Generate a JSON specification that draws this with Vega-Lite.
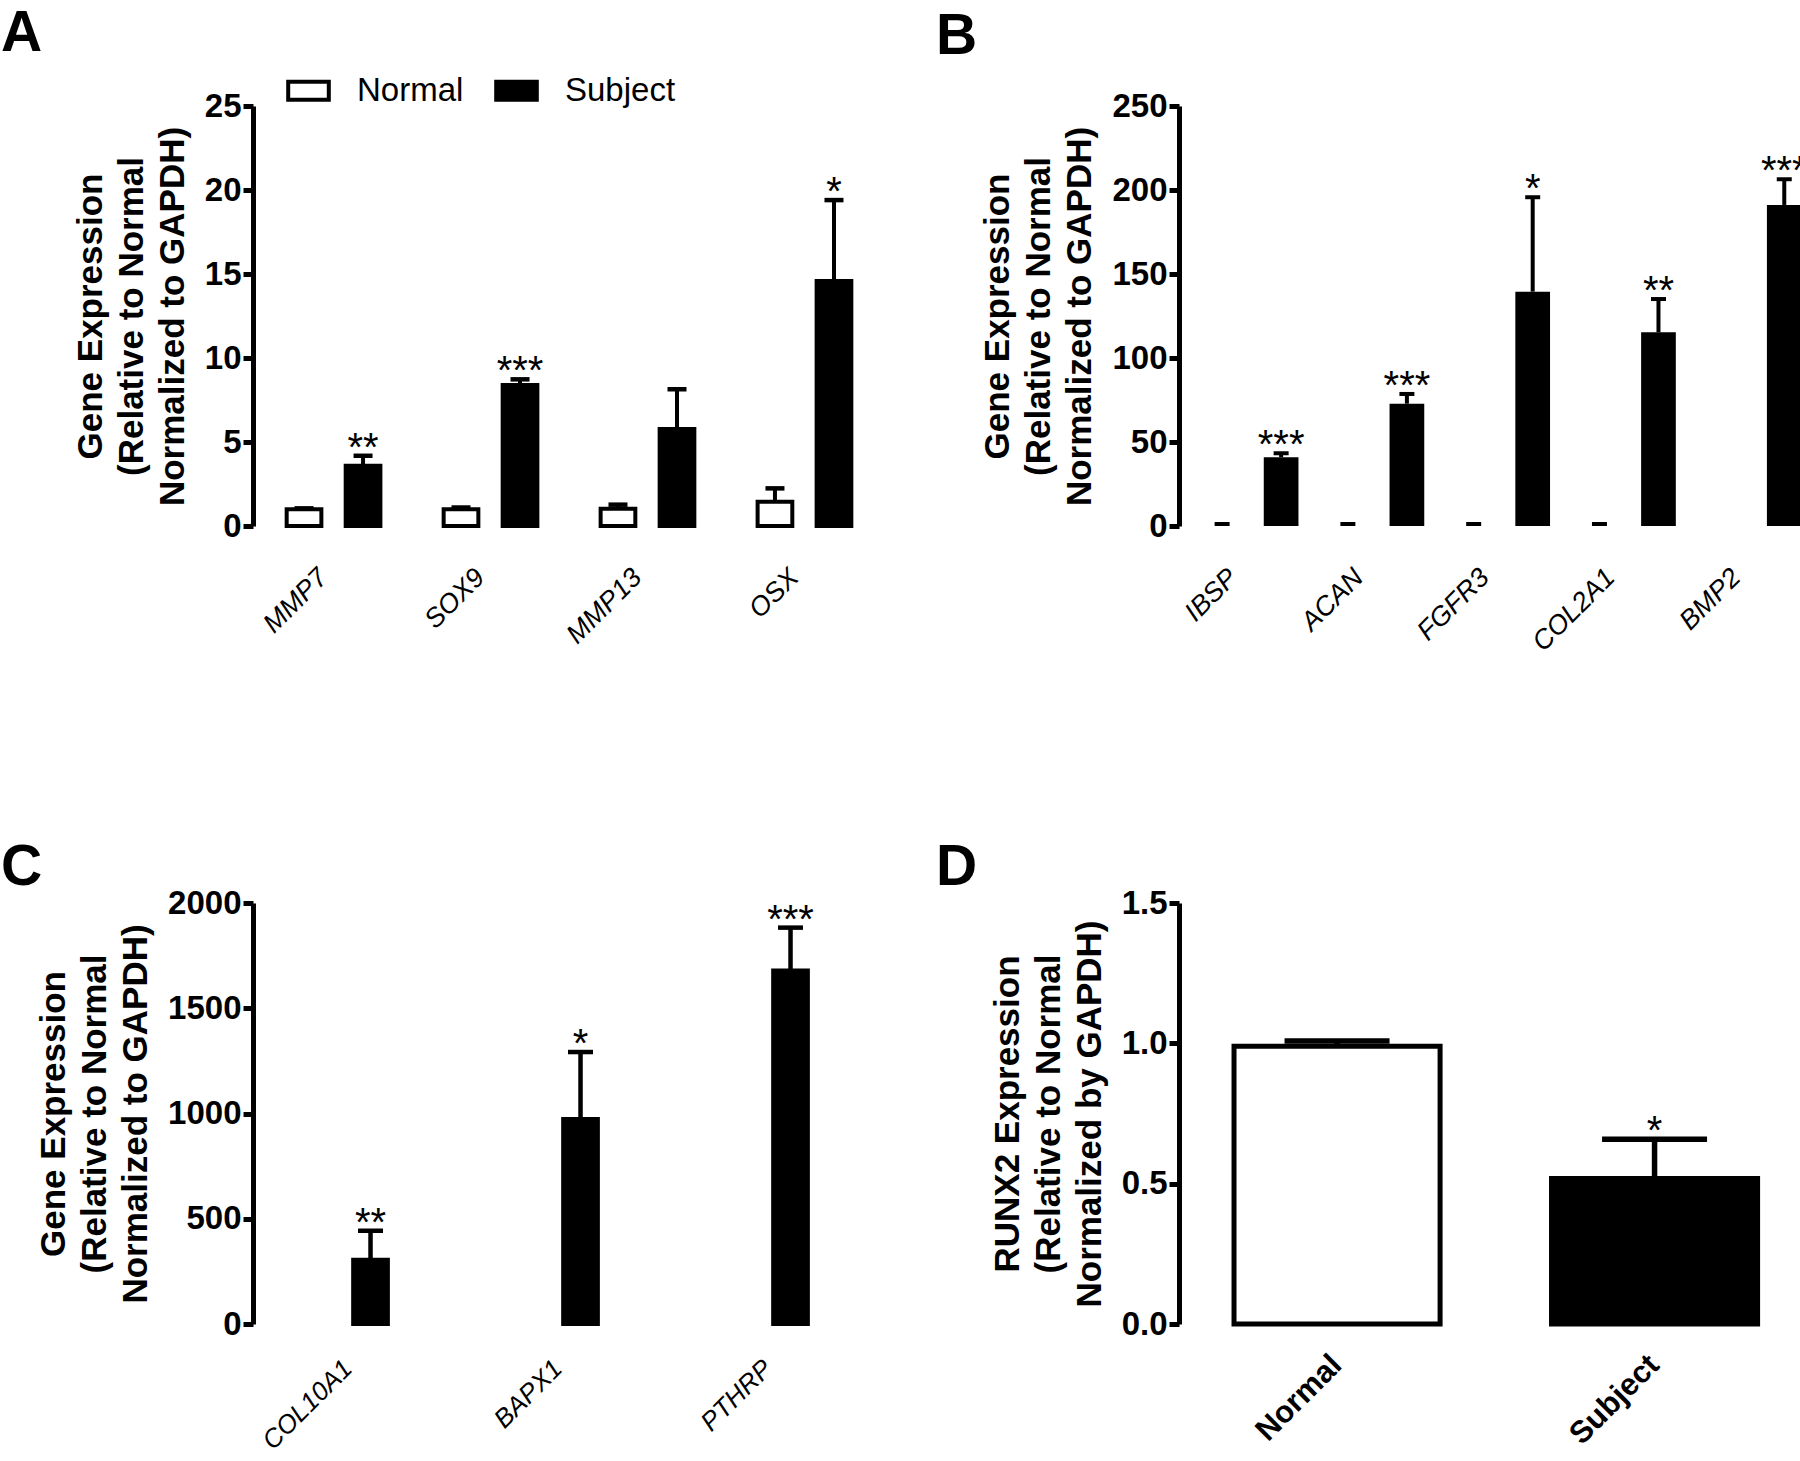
{
  "$schema": "https://vega.github.io/schema/vega-lite/v6.json",
  "background": "white",
  "autosize": {"type": "none"},
  "padding": {"left": 253, "top": 106, "right": 1547, "bottom": 1355},
  "bounds": "flush",
  "columns": 2,
  "spacing": {"row": 377, "column": 294},
  "resolve": {"scale": {"fill": "independent"}, "legend": {"fill": "independent"}},
  "config": {
    "font": "Liberation Sans",
    "view": {"stroke": null},
    "axis": {"labelFont": "Liberation Sans", "titleFont": "Liberation Sans", "labelColor": "black", "titleColor": "black", "domainColor": "black", "tickColor": "black", "grid": false},
    "axisY": {"domainWidth": 5, "tickWidth": 5, "tickSize": 10, "labelFontSize": 33, "labelFontWeight": "bold", "labelPadding": 2, "titleFontSize": 35, "titleFontWeight": "bold", "titleLineHeight": 41, "titlePadding": 14},
    "axisX": {"domain": false, "ticks": false, "labelAngle": -45, "labelAlign": "right", "labelBaseline": "middle", "labelFontSize": 27, "labelFontStyle": "italic", "labelFontWeight": "normal", "labelPadding": 47, "labelOffset": -10, "labelOverlap": false, "labelBound": false},
    "title": {"font": "Liberation Sans", "fontSize": 57, "fontWeight": "bold", "color": "black", "anchor": "start", "frame": "group", "baseline": "alphabetic"},
    "text": {"font": "Liberation Sans", "color": "black"}
  },
  "concat": [
    {
      "width": 632, "height": 420,
      "title": {"text": "A", "dx": -252, "offset": 5},
      "data": {"values": [
        {"gene": "MMP7", "group": "Normal", "value": 1.0, "err": 1.05, "sig": ""},
        {"gene": "MMP7", "group": "Subject", "value": 3.59, "err": 4.18, "sig": "**"},
        {"gene": "SOX9", "group": "Normal", "value": 1.0, "err": 1.1, "sig": ""},
        {"gene": "SOX9", "group": "Subject", "value": 8.39, "err": 8.73, "sig": "***"},
        {"gene": "MMP13", "group": "Normal", "value": 1.02, "err": 1.27, "sig": ""},
        {"gene": "MMP13", "group": "Subject", "value": 5.77, "err": 8.14, "sig": ""},
        {"gene": "OSX", "group": "Normal", "value": 1.45, "err": 2.24, "sig": ""},
        {"gene": "OSX", "group": "Subject", "value": 14.58, "err": 19.4, "sig": "*"}
      ]},
      "encoding": {
        "x": {"field": "gene", "type": "nominal", "sort": ["MMP7", "SOX9", "MMP13", "OSX"], "title": null, "scale": {"paddingInner": 0.403, "paddingOuter": 0.2145}},
        "xOffset": {"field": "group", "type": "nominal", "scale": {"domain": ["Normal", "Subject"], "paddingInner": 0.412, "paddingOuter": 0}}
      },
      "layer": [
        {"mark": {"type": "bar", "stroke": "black", "strokeWidth": 4},
         "encoding": {
           "y": {"field": "value", "type": "quantitative", "scale": {"domain": [0, 25], "nice": false}, "axis": {"values": [0, 5, 10, 15, 20, 25], "format": "d", "title": ["Gene Expression", "(Relative to Normal", "Normalized to GAPDH)"]}},
           "fill": {"field": "group", "type": "nominal", "scale": {"domain": ["Normal", "Subject"], "range": ["white", "black"]},
             "legend": {"orient": "none", "legendX": 33, "legendY": -38, "direction": "horizontal", "title": null, "symbolType": "M-1,-0.443H1V0.443H-1Z", "symbolSize": 1648, "symbolStrokeColor": "black", "symbolStrokeWidth": 4, "labelFont": "Liberation Sans", "labelFontSize": 33, "labelColor": "black", "labelOffset": 26, "columnPadding": 24, "padding": 0}}
         }},
        {"mark": {"type": "rule", "color": "black", "strokeWidth": 4},
         "encoding": {"y": {"field": "value", "type": "quantitative"}, "y2": {"field": "err"}}},
        {"mark": {"type": "tick", "color": "black", "size": 19, "thickness": 4.5, "opacity": 1},
         "encoding": {"y": {"field": "err", "type": "quantitative"}}},
        {"mark": {"type": "text", "fontSize": 40, "baseline": "alphabetic", "dy": 5},
         "encoding": {"y": {"field": "err", "type": "quantitative"}, "text": {"field": "sig"}}}
      ]
    },
    {
      "width": 620, "height": 420,
      "title": {"text": "B", "dx": -243, "offset": 24},
      "data": {"values": [
        {"gene": "IBSP", "group": "Normal", "value": 1, "err": 1.2, "sig": ""},
        {"gene": "IBSP", "group": "Subject", "value": 40.9, "err": 43.3, "sig": "***"},
        {"gene": "ACAN", "group": "Normal", "value": 1, "err": 1.2, "sig": ""},
        {"gene": "ACAN", "group": "Subject", "value": 72.8, "err": 78.6, "sig": "***"},
        {"gene": "FGFR3", "group": "Normal", "value": 1, "err": 1.2, "sig": ""},
        {"gene": "FGFR3", "group": "Subject", "value": 139.5, "err": 195.7, "sig": "*"},
        {"gene": "COL2A1", "group": "Normal", "value": 1, "err": 1.2, "sig": ""},
        {"gene": "COL2A1", "group": "Subject", "value": 115.3, "err": 135.1, "sig": "**"},
        {"gene": "BMP2", "group": "Subject", "value": 191.1, "err": 206.4, "sig": "***"}
      ]},
      "encoding": {
        "x": {"field": "gene", "type": "nominal", "sort": ["IBSP", "ACAN", "FGFR3", "COL2A1", "BMP2"], "title": null, "scale": {"paddingInner": 0.385, "paddingOuter": 0.157, "align": 0.652}},
        "xOffset": {"field": "group", "type": "nominal", "scale": {"domain": ["Normal", "Subject"], "paddingInner": 0.336, "paddingOuter": 0}}
      },
      "layer": [
        {"mark": {"type": "bar", "strokeWidth": 0},
         "encoding": {
           "y": {"field": "value", "type": "quantitative", "scale": {"domain": [0, 250], "nice": false}, "axis": {"values": [0, 50, 100, 150, 200, 250], "format": "d", "title": ["Gene Expression", "(Relative to Normal", "Normalized to GAPDH)"]}},
           "fill": {"field": "group", "type": "nominal", "scale": {"domain": ["Normal", "Subject"], "range": ["white", "black"]}, "legend": null}
         }},
        {"mark": {"type": "rule", "color": "black", "strokeWidth": 4},
         "encoding": {"y": {"field": "value", "type": "quantitative"}, "y2": {"field": "err"}}},
        {"mark": {"type": "tick", "color": "black", "size": 15, "thickness": 4, "opacity": 1},
         "encoding": {"y": {"field": "err", "type": "quantitative"}}},
        {"mark": {"type": "text", "fontSize": 40, "baseline": "alphabetic", "dy": 5},
         "encoding": {"y": {"field": "err", "type": "quantitative"}, "text": {"field": "sig"}}}
      ]
    },
    {
      "width": 630, "height": 421,
      "title": {"text": "C", "dx": -252, "offset": -10},
      "data": {"values": [
        {"gene": "COL10A1", "group": "Subject", "value": 305, "err": 443, "sig": "**"},
        {"gene": "BAPX1", "group": "Subject", "value": 974, "err": 1292, "sig": "*"},
        {"gene": "PTHRP", "group": "Subject", "value": 1679, "err": 1883, "sig": "***"}
      ]},
      "encoding": {
        "x": {"field": "gene", "type": "nominal", "sort": ["COL10A1", "BAPX1", "PTHRP"], "title": null, "scale": {"paddingInner": 0.392, "paddingOuter": 0.196}, "axis": {"labelFontSize": 26, "labelPadding": 40}},
        "xOffset": {"field": "group", "type": "nominal", "scale": {"domain": ["Normal", "Subject"], "paddingInner": 0.383, "paddingOuter": 0}}
      },
      "layer": [
        {"mark": {"type": "bar", "stroke": "black", "strokeWidth": 4},
         "encoding": {
           "y": {"field": "value", "type": "quantitative", "scale": {"domain": [0, 2000], "nice": false}, "axis": {"values": [0, 500, 1000, 1500, 2000], "format": "d", "title": ["Gene Expression", "(Relative to Normal", "Normalized to GAPDH)"]}},
           "fill": {"field": "group", "type": "nominal", "scale": {"domain": ["Normal", "Subject"], "range": ["white", "black"]}, "legend": null}
         }},
        {"mark": {"type": "rule", "color": "black", "strokeWidth": 4.5},
         "encoding": {"y": {"field": "value", "type": "quantitative"}, "y2": {"field": "err"}}},
        {"mark": {"type": "tick", "color": "black", "size": 25, "thickness": 4.5, "opacity": 1},
         "encoding": {"y": {"field": "err", "type": "quantitative"}}},
        {"mark": {"type": "text", "fontSize": 40, "baseline": "alphabetic", "dy": 5},
         "encoding": {"y": {"field": "err", "type": "quantitative"}, "text": {"field": "sig"}}}
      ]
    },
    {
      "width": 622, "height": 421,
      "title": {"text": "D", "dx": -243, "offset": -10},
      "data": {"values": [
        {"group": "Normal", "value": 0.99, "err": 1.008, "sig": ""},
        {"group": "Subject", "value": 0.518, "err": 0.658, "sig": "*"}
      ]},
      "encoding": {
        "x": {"field": "group", "type": "nominal", "sort": ["Normal", "Subject"], "title": null, "scale": {"paddingInner": 0.351, "paddingOuter": 0.155, "align": 0.559}, "axis": {"labelFontStyle": "normal", "labelFontWeight": "bold", "labelFontSize": 31, "labelPadding": 36, "labelOffset": 0}}
      },
      "layer": [
        {"mark": {"type": "bar", "stroke": "black", "strokeWidth": 5},
         "encoding": {
           "y": {"field": "value", "type": "quantitative", "scale": {"domain": [0, 1.5], "nice": false}, "axis": {"values": [0, 0.5, 1, 1.5], "format": ".1f", "title": ["RUNX2 Expression", "(Relative to Normal", "Normalized by GAPDH)"]}},
           "fill": {"field": "group", "type": "nominal", "scale": {"domain": ["Normal", "Subject"], "range": ["white", "black"]}, "legend": null}
         }},
        {"mark": {"type": "rule", "color": "black", "strokeWidth": 5.5},
         "encoding": {"y": {"field": "value", "type": "quantitative"}, "y2": {"field": "err"}}},
        {"mark": {"type": "tick", "color": "black", "size": 105, "thickness": 5.5, "opacity": 1},
         "encoding": {"y": {"field": "err", "type": "quantitative"}}},
        {"mark": {"type": "text", "fontSize": 40, "baseline": "alphabetic", "dy": 5},
         "encoding": {"y": {"field": "err", "type": "quantitative"}, "text": {"field": "sig"}}}
      ]
    }
  ]
}
